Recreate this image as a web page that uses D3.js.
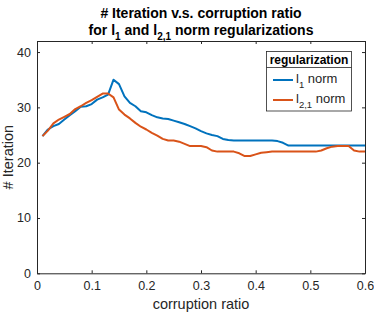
<!DOCTYPE html>
<html>
<head>
<meta charset="utf-8">
<script src="https://cdn.jsdelivr.net/npm/d3@7"></script>
<style>
  body { margin: 0; background: #fff; }
  svg { display: block; font-family: "Liberation Sans", Arial, sans-serif; }
</style>
</head>
<body>
<div id="chart"></div>
<script>
// corruption ratios 0.01 .. 0.60
var ratios = [0.01,0.02,0.03,0.04,0.05,0.06,0.07,0.08,0.09,0.10,
              0.11,0.12,0.13,0.14,0.15,0.16,0.17,0.18,0.19,0.20,
              0.21,0.22,0.23,0.24,0.25,0.26,0.27,0.28,0.29,0.30,
              0.31,0.32,0.33,0.34,0.35,0.36,0.37,0.38,0.39,0.40,
              0.41,0.42,0.43,0.44,0.45,0.46,0.47,0.48,0.49,0.50,
              0.51,0.52,0.53,0.54,0.55,0.56,0.57,0.58,0.59,0.60];
var l1Iter = [24.8,26.0,26.6,27.0,27.8,28.6,29.3,30.1,30.2,30.6,
              31.4,31.8,32.3,35.0,34.2,32.0,30.8,30.2,29.3,29.1,
              28.6,28.2,28.0,27.9,27.6,27.3,27.0,26.6,26.2,25.7,
              25.3,25.0,24.8,24.3,24.1,24.0,24.0,24.0,24.0,24.0,
              24.0,24.0,24.0,23.9,23.6,23.1,23.1,23.1,23.1,23.1,
              23.1,23.1,23.1,23.1,23.1,23.1,23.1,23.1,23.1,23.1];
var l21Iter = [24.8,25.8,27.1,27.8,28.3,28.8,29.7,30.2,30.8,31.3,
               31.9,32.5,32.5,31.8,29.6,28.7,28.0,27.2,26.5,26.0,
               25.4,24.9,24.3,24.0,24.0,23.8,23.4,23.0,23.0,23.0,
               22.8,22.2,22.0,22.0,22.0,22.0,21.7,21.2,21.2,21.5,
               21.8,21.9,22.0,22.0,22.0,22.0,22.0,22.0,22.0,22.0,
               22.0,22.2,22.6,22.9,23.0,23.0,23.0,22.2,22.0,22.0];
var xTicks = [0, 0.1, 0.2, 0.3, 0.4, 0.5, 0.6];
var yTicks = [0, 10, 20, 30, 40];
var seriesNames = ["l1", "l2,1"];
var seriesColors = ["#0072BD", "#D95319"];

(function () {
  var W = 374, H = 313;
  var mLeft = 37, mRight = 365, mTop = 41, mBottom = 273.3;
  var axisColor = "#262626";

  var svg = d3.select("#chart").append("svg").attr("width", W).attr("height", H);

  var x = d3.scaleLinear().domain([0, 0.6]).range([mLeft, mRight]);
  var y = d3.scaleLinear().domain([0, 42]).range([mBottom, mTop]);

  // lines
  var line = d3.line().x(function (d) { return x(d[0]); }).y(function (d) { return y(d[1]); });
  [l1Iter, l21Iter].forEach(function (vals, i) {
    svg.append("path")
      .datum(ratios.map(function (r, j) { return [r, vals[j]]; }))
      .attr("fill", "none")
      .attr("stroke", seriesColors[i])
      .attr("stroke-width", 2)
      .attr("stroke-linejoin", "round")
      .attr("d", line);
  });

  // axes (ticks inside, box on)
  function styleAxis(g) {
    g.select(".domain").attr("stroke", axisColor);
    g.selectAll(".tick line").attr("stroke", axisColor);
    g.selectAll(".tick text").attr("fill", axisColor).attr("font-size", 12.5);
  }
  var fmt = function (d) { return d === 0 ? "0" : String(d); };
  svg.append("g").attr("transform", "translate(0," + mBottom + ")")
    .call(d3.axisBottom(x).tickValues(xTicks).tickFormat(fmt).tickSizeInner(-3).tickSizeOuter(0).tickPadding(8))
    .call(styleAxis);
  svg.append("g").attr("transform", "translate(0," + mTop + ")")
    .call(d3.axisTop(x).tickValues(xTicks).tickFormat("").tickSizeInner(-3).tickSizeOuter(0))
    .call(styleAxis);
  svg.append("g").attr("transform", "translate(" + mLeft + ",0)")
    .call(d3.axisLeft(y).tickValues(yTicks).tickSizeInner(-3).tickSizeOuter(0).tickPadding(6))
    .call(styleAxis);
  svg.append("g").attr("transform", "translate(" + mRight + ",0)")
    .call(d3.axisRight(y).tickValues(yTicks).tickFormat("").tickSizeInner(-3).tickSizeOuter(0))
    .call(styleAxis);

  // axis labels
  svg.append("text")
    .attr("x", (mLeft + mRight) / 2).attr("y", 309)
    .attr("text-anchor", "middle").attr("font-size", 14.5).attr("fill", axisColor)
    .text("corruption ratio");
  svg.append("text")
    .attr("transform", "translate(13," + ((mTop + mBottom) / 2) + ") rotate(-90)")
    .attr("text-anchor", "middle").attr("font-size", 14.5).attr("fill", axisColor)
    .text("# Iteration");

  // title with subscripts
  var cx = (mLeft + mRight) / 2;
  svg.append("text")
    .attr("x", cx).attr("y", 18)
    .attr("text-anchor", "middle").attr("font-size", 14).attr("font-weight", "bold").attr("fill", "#000")
    .text("# Iteration v.s. corruption ratio");
  var t2 = svg.append("text")
    .attr("x", cx).attr("y", 35)
    .attr("text-anchor", "middle").attr("font-size", 14).attr("font-weight", "bold").attr("fill", "#000");
  t2.append("tspan").text("for l");
  t2.append("tspan").attr("dy", 5).attr("font-size", 10).text("1");
  t2.append("tspan").attr("dy", -5).text(" and l");
  t2.append("tspan").attr("dy", 5).attr("font-size", 10).text("2,1");
  t2.append("tspan").attr("dy", -5).text(" norm regularizations");

  // legend
  var lg = svg.append("g");
  var lx0 = 266.5, lx1 = 351.5, ly0 = 51.5, ly1 = 111, lySep = 67.5;
  lg.append("rect").attr("x", lx0).attr("y", ly0).attr("width", lx1 - lx0).attr("height", ly1 - ly0)
    .attr("fill", "#fff").attr("stroke", axisColor).attr("stroke-width", 0.8);
  lg.append("line").attr("x1", lx0).attr("x2", lx1).attr("y1", lySep).attr("y2", lySep)
    .attr("stroke", axisColor).attr("stroke-width", 0.8);
  lg.append("text").attr("x", (lx0 + lx1) / 2).attr("y", 64)
    .attr("text-anchor", "middle").attr("font-size", 12).attr("font-weight", "bold").attr("fill", "#000")
    .text("regularization");
  seriesNames.forEach(function (name, i) {
    var yy = 80 + i * 20;
    lg.append("line").attr("x1", 273).attr("x2", 293).attr("y1", yy).attr("y2", yy)
      .attr("stroke", seriesColors[i]).attr("stroke-width", 2);
    var t = lg.append("text").attr("x", 296).attr("y", yy + 3)
      .attr("font-size", 13).attr("fill", axisColor);
    t.append("tspan").text("l");
    t.append("tspan").attr("dy", 5).attr("font-size", 9.5).text(name.slice(1));
    t.append("tspan").attr("dy", -5).text(" norm");
  });
})();
</script>
</body>
</html>
